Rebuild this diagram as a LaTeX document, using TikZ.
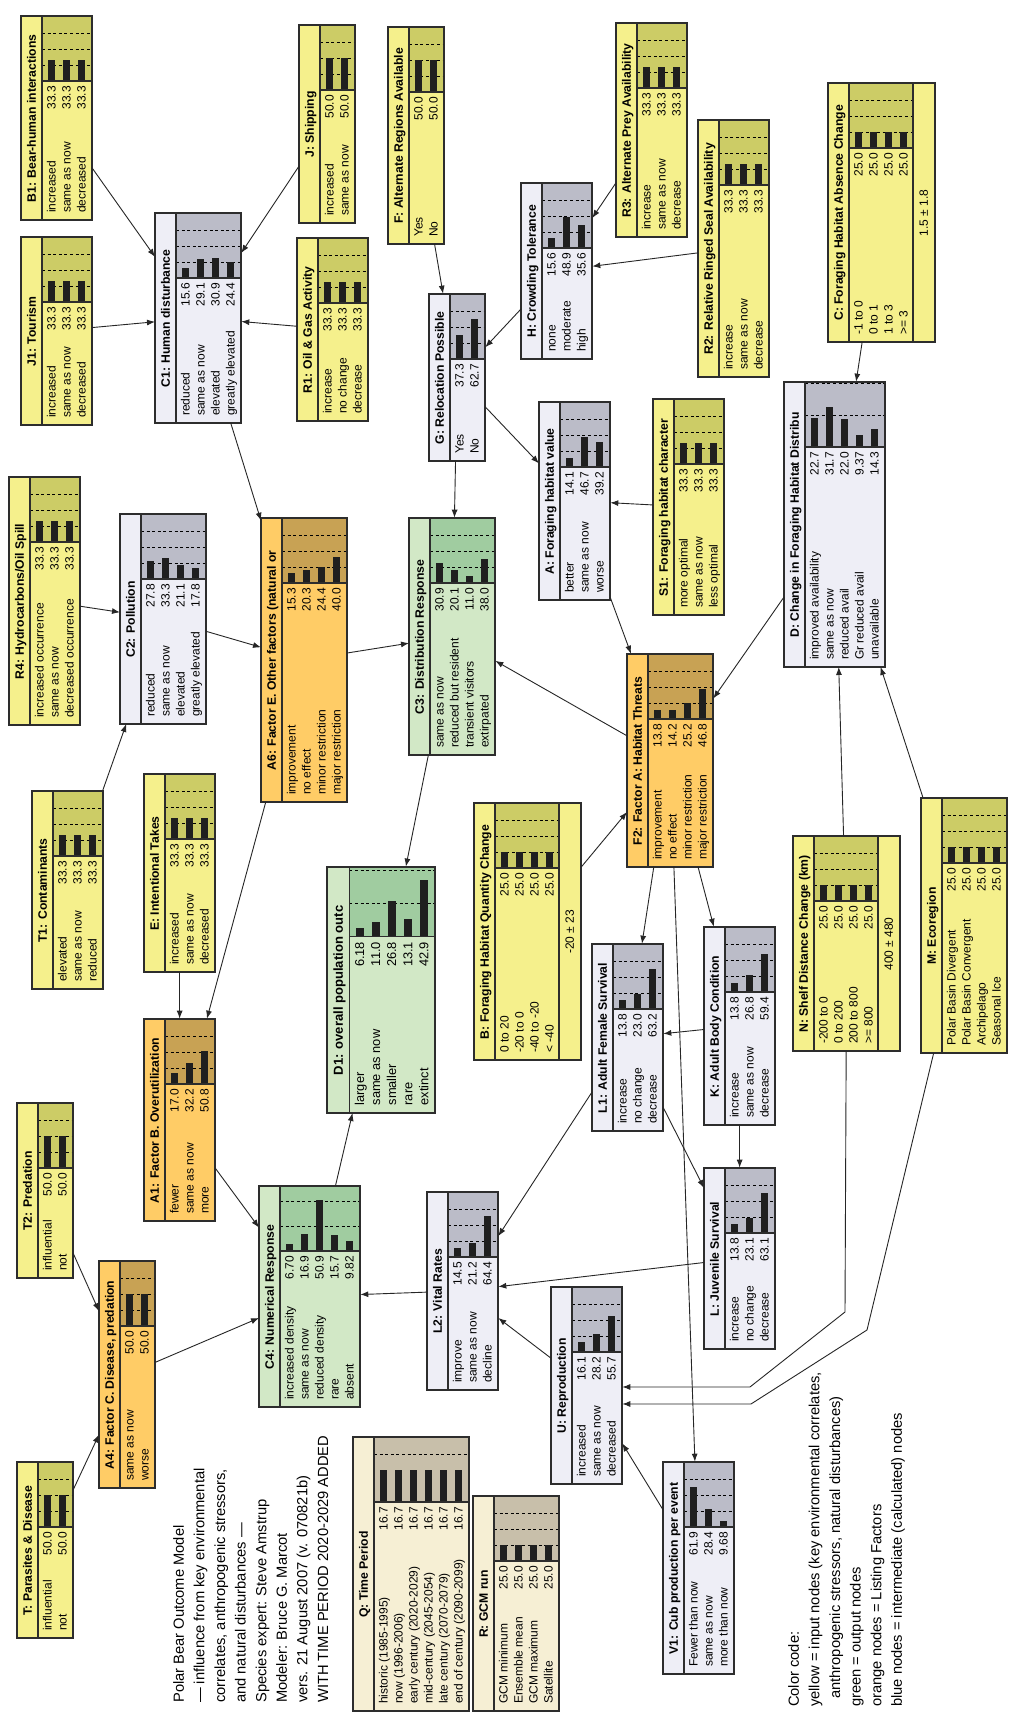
\documentclass[tikz,border=0pt]{standalone}
\usepackage{fontspec}
\setmainfont{Liberation Sans}
\usetikzlibrary{arrows.meta}

\definecolor{yelbody}{RGB}{245,240,140}
\definecolor{yelchart}{RGB}{204,204,102}
\definecolor{blubody}{RGB}{238,238,246}
\definecolor{bluchart}{RGB}{187,188,200}
\definecolor{grnbody}{RGB}{210,232,198}
\definecolor{grnchart}{RGB}{160,204,160}
\definecolor{orgbody}{RGB}{255,204,102}
\definecolor{orgchart}{RGB}{200,162,84}
\definecolor{crmbody}{RGB}{246,239,212}
\definecolor{crmchart}{RGB}{200,191,170}
\definecolor{rim}{RGB}{45,45,45}

\tikzset{
  box/.style={draw=rim, line width=1.3pt, inner sep=0pt, anchor=north west},
  frame/.style={draw=rim, line width=1.3pt},
  rule/.style={draw=rim, line width=1.1pt},
  grid/.style={draw=black, line width=0.8pt, dash pattern=on 3pt off 2.6pt},
  bar/.style={fill=black!88},
  state/.style={inner sep=0pt, font=\fontsize{12}{15}\selectfont},
  title/.style={inner sep=0pt, anchor=base, font=\bfseries\fontsize{12.2}{15}\selectfont},
  note/.style={inner sep=0pt, align=left, anchor=north west, font=\fontsize{14.7}{20.6}\selectfont},
  link/.style={draw=black!85, line width=0.9pt, -{Latex[length=8pt,width=6pt]}}
}

% length of one percent in the bar charts
\def\barscale{0.64}

% belief node: [mean]{name}{colours}{left}{top}{width}{rows}{title}{state/value list}
\newcommand{\bnnode}[9][]{%
  \pgfmathsetmacro{\bh}{#7*15+4}%
  \if\relax\detokenize{#1}\relax \def\mh{0}\else \def\mh{21}\fi
  \pgfmathsetmacro{\tot}{21+\bh+\mh}%
  \node[box, fill=#3body, minimum width=#6pt, minimum height=\tot pt] (#2) at (#4,#5) {};
  % chart area
  \fill[#3chart] ({#4+#6-64},{#5-21}) rectangle ({#4+#6},{#5-21-\bh});
  \begin{scope}
    \clip ({#4+#6-64},{#5-21}) rectangle ({#4+#6},{#5-21-\bh});
    \foreach \g in {25,50,75}
      \draw[grid] ({#4+#6-64+\g*\barscale},{#5-21}) -- ++(0,-\bh);
    \foreach \lab/\val [count=\i] in {#9} {
      \pgfmathsetmacro{\ry}{#5-23-15*(\i-0.5)}
      \fill[bar] ({#4+#6-64},{\ry-3.8}) rectangle ({#4+#6-64+\barscale*\val},{\ry+3.8});
    }
  \end{scope}
  % states and values
  \foreach \lab/\val [count=\i] in {#9} {
    \pgfmathsetmacro{\ry}{#5-23-15*(\i-0.5)}
    \node[state, anchor=base west] (#2-s\i) at ({#4+7},{\ry-4.2}) {\lab};
    \node[state, anchor=base east] (#2-v\i) at ({#4+#6-69},{\ry-4.2}) {\val};
  }
  \draw[rule] (#4,{#5-21}) -- ({#4+#6},{#5-21});
  \draw[rule] ({#4+#6-64},{#5-21}) -- ({#4+#6-64},{#5-21-\bh});
  \if\relax\detokenize{#1}\relax\else
    \draw[rule] (#4,{#5-21-\bh}) -- ({#4+#6},{#5-21-\bh});
    \node[state, anchor=base] (#2-m) at ({#4+#6/2},{#5-31.5-\bh-4.3}) {#1};
  \fi
  \node[title] (#2-t) at ({#4+#6/2},{#5-10.5-4.4}) {#8};
  \draw[frame] (#2.north west) rectangle (#2.south east);
}

\begin{document}
\begin{tikzpicture}[x=1pt, y=1pt, rotate=90, transform shape]
  \fill[white] (0,0) rectangle (1718,-1013);
  \useasboundingbox (0,0) rectangle (1718,-1013);

  % Human disturbance and its inputs
  \bnnode{b1}{yel}{1498}{-21}{203}{3}{B1: Bear-human interactions}{increased/33.3, same as now/33.3, decreased/33.3}
  \bnnode{j1}{yel}{1293}{-21}{187}{3}{J1: Tourism}{increased/33.3, same as now/33.3, decreased/33.3}
  \bnnode{c1}{blu}{1295}{-155}{209}{4}{C1: Human disturbance}{reduced/15.6, same as now/29.1, elevated/30.9, greatly elevated/24.4}
  \bnnode{j}{yel}{1495}{-299}{197}{2}{J: Shipping}{increased/50.0, same as now/50.0}
  \bnnode{r1}{yel}{1297}{-297}{182}{3}{R1: Oil \& Gas Activity}{increase/33.3, no change/33.3, decrease/33.3}

  % Relocation and crowding
  \bnnode{f}{yel}{1474}{-388}{216}{2}{F: Alternate Regions Available}{Yes/50.0, No/50.0}
  \bnnode{g}{blu}{1257}{-429}{166}{2}{G: Relocation Possible}{Yes/37.3, No/62.7}
  \bnnode{h}{blu}{1359}{-521}{175}{3}{H: Crowding Tolerance}{none/15.6, moderate/48.9, high/35.6}
  \bnnode{r3}{yel}{1481}{-616}{213}{3}{R3: Alternate Prey Availability}{increase/33.3, same as now/33.3, decrease/33.3}
  \bnnode{r2}{yel}{1341}{-698}{256}{3}{R2: Relative Ringed Seal Availability}{increase/33.3, same as now/33.3, decrease/33.3}

  % Foraging habitat
  \bnnode[1.5 ± 1.8]{c}{yel}{1376}{-828}{258}{4}{C: Foraging Habitat Absence Change}{-1 to 0/25.0, 0 to 1/25.0, 1 to 3/25.0, >= 3/25.0}
  \begin{scope}
    \def\barscale{1.27}
    \bnnode{d}{blu}{1051}{-784}{284}{5}{D: Change in Foraging Habitat Distribu\hspace{37pt}}{improved availability/22.7, same as now/31.7, reduced avail/22.0, Gr reduced avail/9.37, unavailable/14.3}
  \end{scope}
  \bnnode{s1}{yel}{1103}{-653}{215}{3}{S1: Foraging habitat character}{more optimal/33.3, same as now/33.3, less optimal/33.3}
  \bnnode{a}{blu}{1118}{-539}{197}{3}{A: Foraging habitat value}{better/14.1, same as now/46.7, worse/39.2}
  \bnnode[-20 ± 23]{b}{yel}{658}{-474}{256}{4}{B: Foraging Habitat Quantity Change}{0 to 20/25.0, -20 to 0/25.0, -40 to -20/25.0, < -40/25.0}
  \bnnode[400 ± 480]{n}{yel}{667}{-793}{214}{4}{N: Shelf Distance Change (km)}{-200 to 0/25.0, 0 to 200/25.0, 200 to 800/25.0, >= 800/25.0}
  \bnnode{m}{yel}{665}{-921}{254}{4}{M: Ecoregion}{Polar Basin Divergent/25.0, Polar Basin Convergent/25.0, Archipelago/25.0, Seasonal Ice/25.0}

  % Listing factors
  \bnnode{a6}{org}{916}{-261}{283}{4}{A6: Factor E. Other factors (natural or\hspace{33pt}}{improvement/15.3, no effect/20.3, minor restriction/24.4, major restriction/40.0}
  \bnnode{f2}{org}{851}{-627}{212}{4}{F2: Factor A: Habitat Threats}{improvement/13.8, no effect/14.2, minor restriction/25.2, major restriction/46.8}
  \bnnode{a1}{org}{497}{-144}{201}{3}{A1: Factor B. Overutilization}{fewer/17.0, same as now/32.2, more/50.8}
  \bnnode{a4}{org}{230}{-99}{226}{2}{A4: Factor C. Disease, predation}{same as now/50.0, worse/50.0}

  % Pollution, takes, predation
  \bnnode{c2}{blu}{994}{-120}{209}{4}{C2: Pollution}{reduced/27.8, same as now/33.3, elevated/21.1, greatly elevated/17.8}
  \bnnode{r4}{yel}{993}{-9}{247}{3}{R4: Hydrocarbons/Oil Spill}{increased occurrence/33.3, same as now/33.3, decreased occurrence/33.3}
  \bnnode{t1}{yel}{729}{-32}{197}{3}{T1: Contaminants}{elevated/33.3, same as now/33.3, reduced/33.3}
  \bnnode{e}{yel}{746}{-144}{197}{3}{E: Intentional Takes}{increased/33.3, same as now/33.3, decreased/33.3}
  \bnnode{t2}{yel}{440}{-17}{174}{2}{T2: Predation}{influential/50.0, not/50.0}
  \bnnode{t}{yel}{80}{-17}{175}{2}{T: Parasites \& Disease}{influential/50.0, not/50.0}

  % Outputs
  \bnnode{c3}{grn}{963}{-409}{236}{4}{C3: Distribution Response}{same as now/30.9, reduced but resident/20.1, transient visitors/11.0, extirpated/38.0}
  \begin{scope}[shift={(605,-327)}, scale=1.07, shift={(-605,327)}]
    \def\barscale{1.24}
    \bnnode{d1}{grn}{605}{-327}{229}{5}{D1: overall population outc\hspace{36pt}}{larger/6.18, same as now/11.0, smaller/26.8, rare/13.1, extinct/42.9}
  \end{scope}
  \begin{scope}
    \def\barscale{1.0}
    \bnnode{c4}{grn}{311}{-259}{220}{5}{C4: Numerical Response}{increased density/6.70, same as now/16.9, reduced density/50.9, rare/15.7, absent/9.82}
  \end{scope}

  % Vital rates
  \bnnode{l1}{blu}{587}{-592}{186}{3}{L1: Adult Female Survival}{increase/13.8, no change/23.0, decrease/63.2}
  \bnnode{k}{blu}{593}{-704}{197}{3}{K: Adult Body Condition}{increase/13.8, same as now/26.8, decrease/59.4}
  \bnnode{l}{blu}{369}{-704}{180}{3}{L: Juvenile Survival}{increase/13.8, no change/23.1, decrease/63.1}
  \bnnode{l2}{blu}{328}{-427}{197}{3}{L2: Vital Rates}{improve/14.5, same as now/21.2, decline/64.4}
  \bnnode{u}{blu}{234}{-551}{196}{3}{U: Reproduction}{increased/16.1, same as now/28.2, decreased/55.7}
  \bnnode{v1}{blu}{44}{-663}{211}{3}{V1: Cub production per event}{Fewer than now/61.9, same as now/28.4, more than now/9.68}

  % Scenario nodes
  \begin{scope}
    \def\barscale{1.92}
    \bnnode{q}{crm}{7}{-353}{273}{6}{Q: Time Period}{historic (1985-1995)/16.7, now (1996-2006)/16.7, early century (2020-2029)/16.7, mid-century (2045-2054)/16.7, late century (2070-2079)/16.7, end of century (2090-2099)/16.7}
  \end{scope}
  \bnnode{r}{crm}{7}{-473}{214}{4}{R: GCM run}{GCM minimum/25.0, Ensemble mean/25.0, GCM maximum/25.0, Satellite/25.0}

  % Text blocks
  \node[note] (credits) at (15,-173) {Polar Bear Outcome Model\\— influence from key environmental\\correlates, anthropogenic stressors,\\and natural disturbances —\\Species expert: Steve Amstrup\\Modeler: Bruce G. Marcot\\vers. 21 August 2007 (v. 070821b)\\WITH TIME PERIOD 2020-2029 ADDED};
  \node[note] (legend) at (11,-788) {Color code:\\yellow = input nodes (key environmental correlates,\\\hspace*{8pt}anthropogenic stressors, natural disturbances)\\green = output nodes\\orange nodes = Listing Factors\\blue nodes = intermediate (calculated) nodes};

  % Bend points of the two routed links
  \coordinate (nb1) at (406,-845);
  \coordinate (nb2) at (331,-750);
  \coordinate (mb1) at (388,-867);
  \coordinate (mb2) at (314,-751);

  % Links
  \draw[link] (b1) -- (c1);
  \draw[link] (j1) -- (c1);
  \draw[link] (j) -- (c1);
  \draw[link] (r1) -- (c1);
  \draw[link] (c1) -- (a6);
  \draw[link] (r4) -- (c2);
  \draw[link] (t1) -- (c2);
  \draw[link] (c2) -- (a6);
  \draw[link] (e) -- (a1);
  \draw[link] (a6) -- (a1);
  \draw[link] (a1) -- (c4);
  \draw[link] (t2) -- (a4);
  \draw[link] (t) -- (a4);
  \draw[link] (a4) -- (c4);
  \draw[link] (l2) -- (c4);
  \draw[link] (c4) -- (d1);
  \draw[link] (c3) -- (d1);
  \draw[link] (a6) -- (c3);
  \draw[link] (g) -- (c3);
  \draw[link] (f) -- (g);
  \draw[link] (h) -- (g);
  \draw[link] (r3) -- (h);
  \draw[link] (r2) -- (h);
  \draw[link] (g) -- (a);
  \draw[link] (s1) -- (a);
  \draw[link] (a) -- (f2);
  \draw[link] (d) -- (f2);
  \draw[link] (c) -- (d);
  \draw[link] (n) -- (d);
  \draw[link] (m) -- (d);
  \draw[link] (f2) -- (c3);
  \draw[link] (b) -- (f2);
  \draw[link] (f2) -- (l1);
  \draw[link] (f2) -- (k);
  \draw[link] (f2) -- (v1);
  \draw[link] (k) -- (l1);
  \draw[link] (k) -- (l);
  \draw[link] (l1) -- (l);
  \draw[link] (l1) -- (l2);
  \draw[link] (l) -- (l2);
  \draw[link] (u) -- (l2);
  \draw[link] (v1) -- (u);
  \draw[link] (n) -- (nb1) -- (nb2) -- (nb2 |- u.south);
  \draw[link] (m) -- (mb1) -- (mb2) -- (mb2 |- u.south);
\end{tikzpicture}
\end{document}
